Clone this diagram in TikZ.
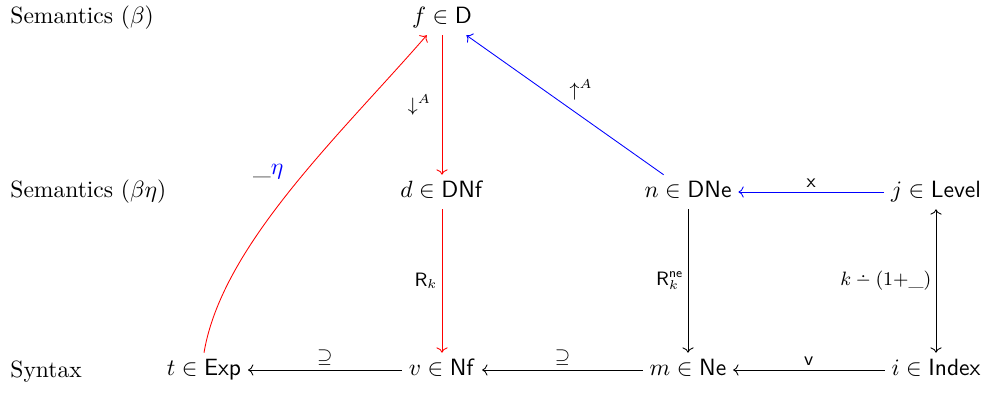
\documentclass[tikz,border=0pt,11pt]{standalone}
\usepackage{amssymb}
\usetikzlibrary{arrows.meta,positioning}
\newcommand{\monus}{\mathbin{\ooalign{\hss\raisebox{0.5ex}{$\cdot$}\hss\cr$-$}}}

\begin{document}
\begin{tikzpicture}[x=0.01635cm, y=-0.01635cm, >=To,
    obj/.style={text height=1.6ex, text depth=.45ex, inner sep=3pt},
    lvl/.style={anchor=west, inner sep=0pt},
    lbl/.style={font=\footnotesize, inner sep=2pt}]
    \useasboundingbox (0,0) rectangle (990,393);

    % row titles
    \node[lvl] (sem1) at (10,18) {Semantics ($\beta$)};
    \node[lvl] (sem2) at (10,192) {Semantics ($\beta\eta$)};
    \node[lvl] (syn) at (10,372) {Syntax};

    % objects
    \node[obj] (f) at (442,18) {$f \in \mathsf{D}$};
    \node[obj] (d) at (442,192) {$d \in \mathsf{DNf}$};
    \node[obj] (n) at (688,192) {$n \in \mathsf{DNe}$};
    \node[obj] (j) at (936,192) {$j \in \mathsf{Level}$};
    \node[obj] (t) at (204,370) {$t \in \mathsf{Exp}$};
    \node[obj] (v) at (442,370) {$v \in \mathsf{Nf}$};
    \node[obj] (m) at (688,370) {$m \in \mathsf{Ne}$};
    \node[obj] (i) at (936,370) {$i \in \mathsf{Index}$};

    % red arrows
    \draw[->, red] (f) -- node[lbl, left=3pt, black] {$\downarrow^{A}$} (d);
    \draw[->, red] (d) -- node[lbl, left, black] {$\mathsf{R}_k$} (v);
    \draw[->, red] (t.north) .. controls (222,245) and (340,135) .. node[pos=0.56, left=10pt, black, inner sep=0pt] {$\_\textcolor{blue}{\eta}$} ([xshift=10]f.south west);

    % blue arrows
    \draw[->, blue] (n) -- node[lbl, above right, black] {$\uparrow^{A}$} (f);
    \draw[->, blue] (j) -- node[lbl, above, black] {$\mathsf{x}$} (n);

    % black arrows
    \draw[->] (n) -- node[lbl, left] {$\mathsf{R}^{\mathsf{ne}}_k$} (m);
    \draw[<->] (i) -- node[lbl, left] {$k \monus (1{+}\_)$} (j);
    \draw[->] (i) -- node[lbl, above] {$\mathsf{v}$} (m);
    \draw[->] (m) -- node[lbl, above] {$\supseteq$} (v);
    \draw[->] (v) -- node[lbl, above] {$\supseteq$} (t);
\end{tikzpicture}
\end{document}
